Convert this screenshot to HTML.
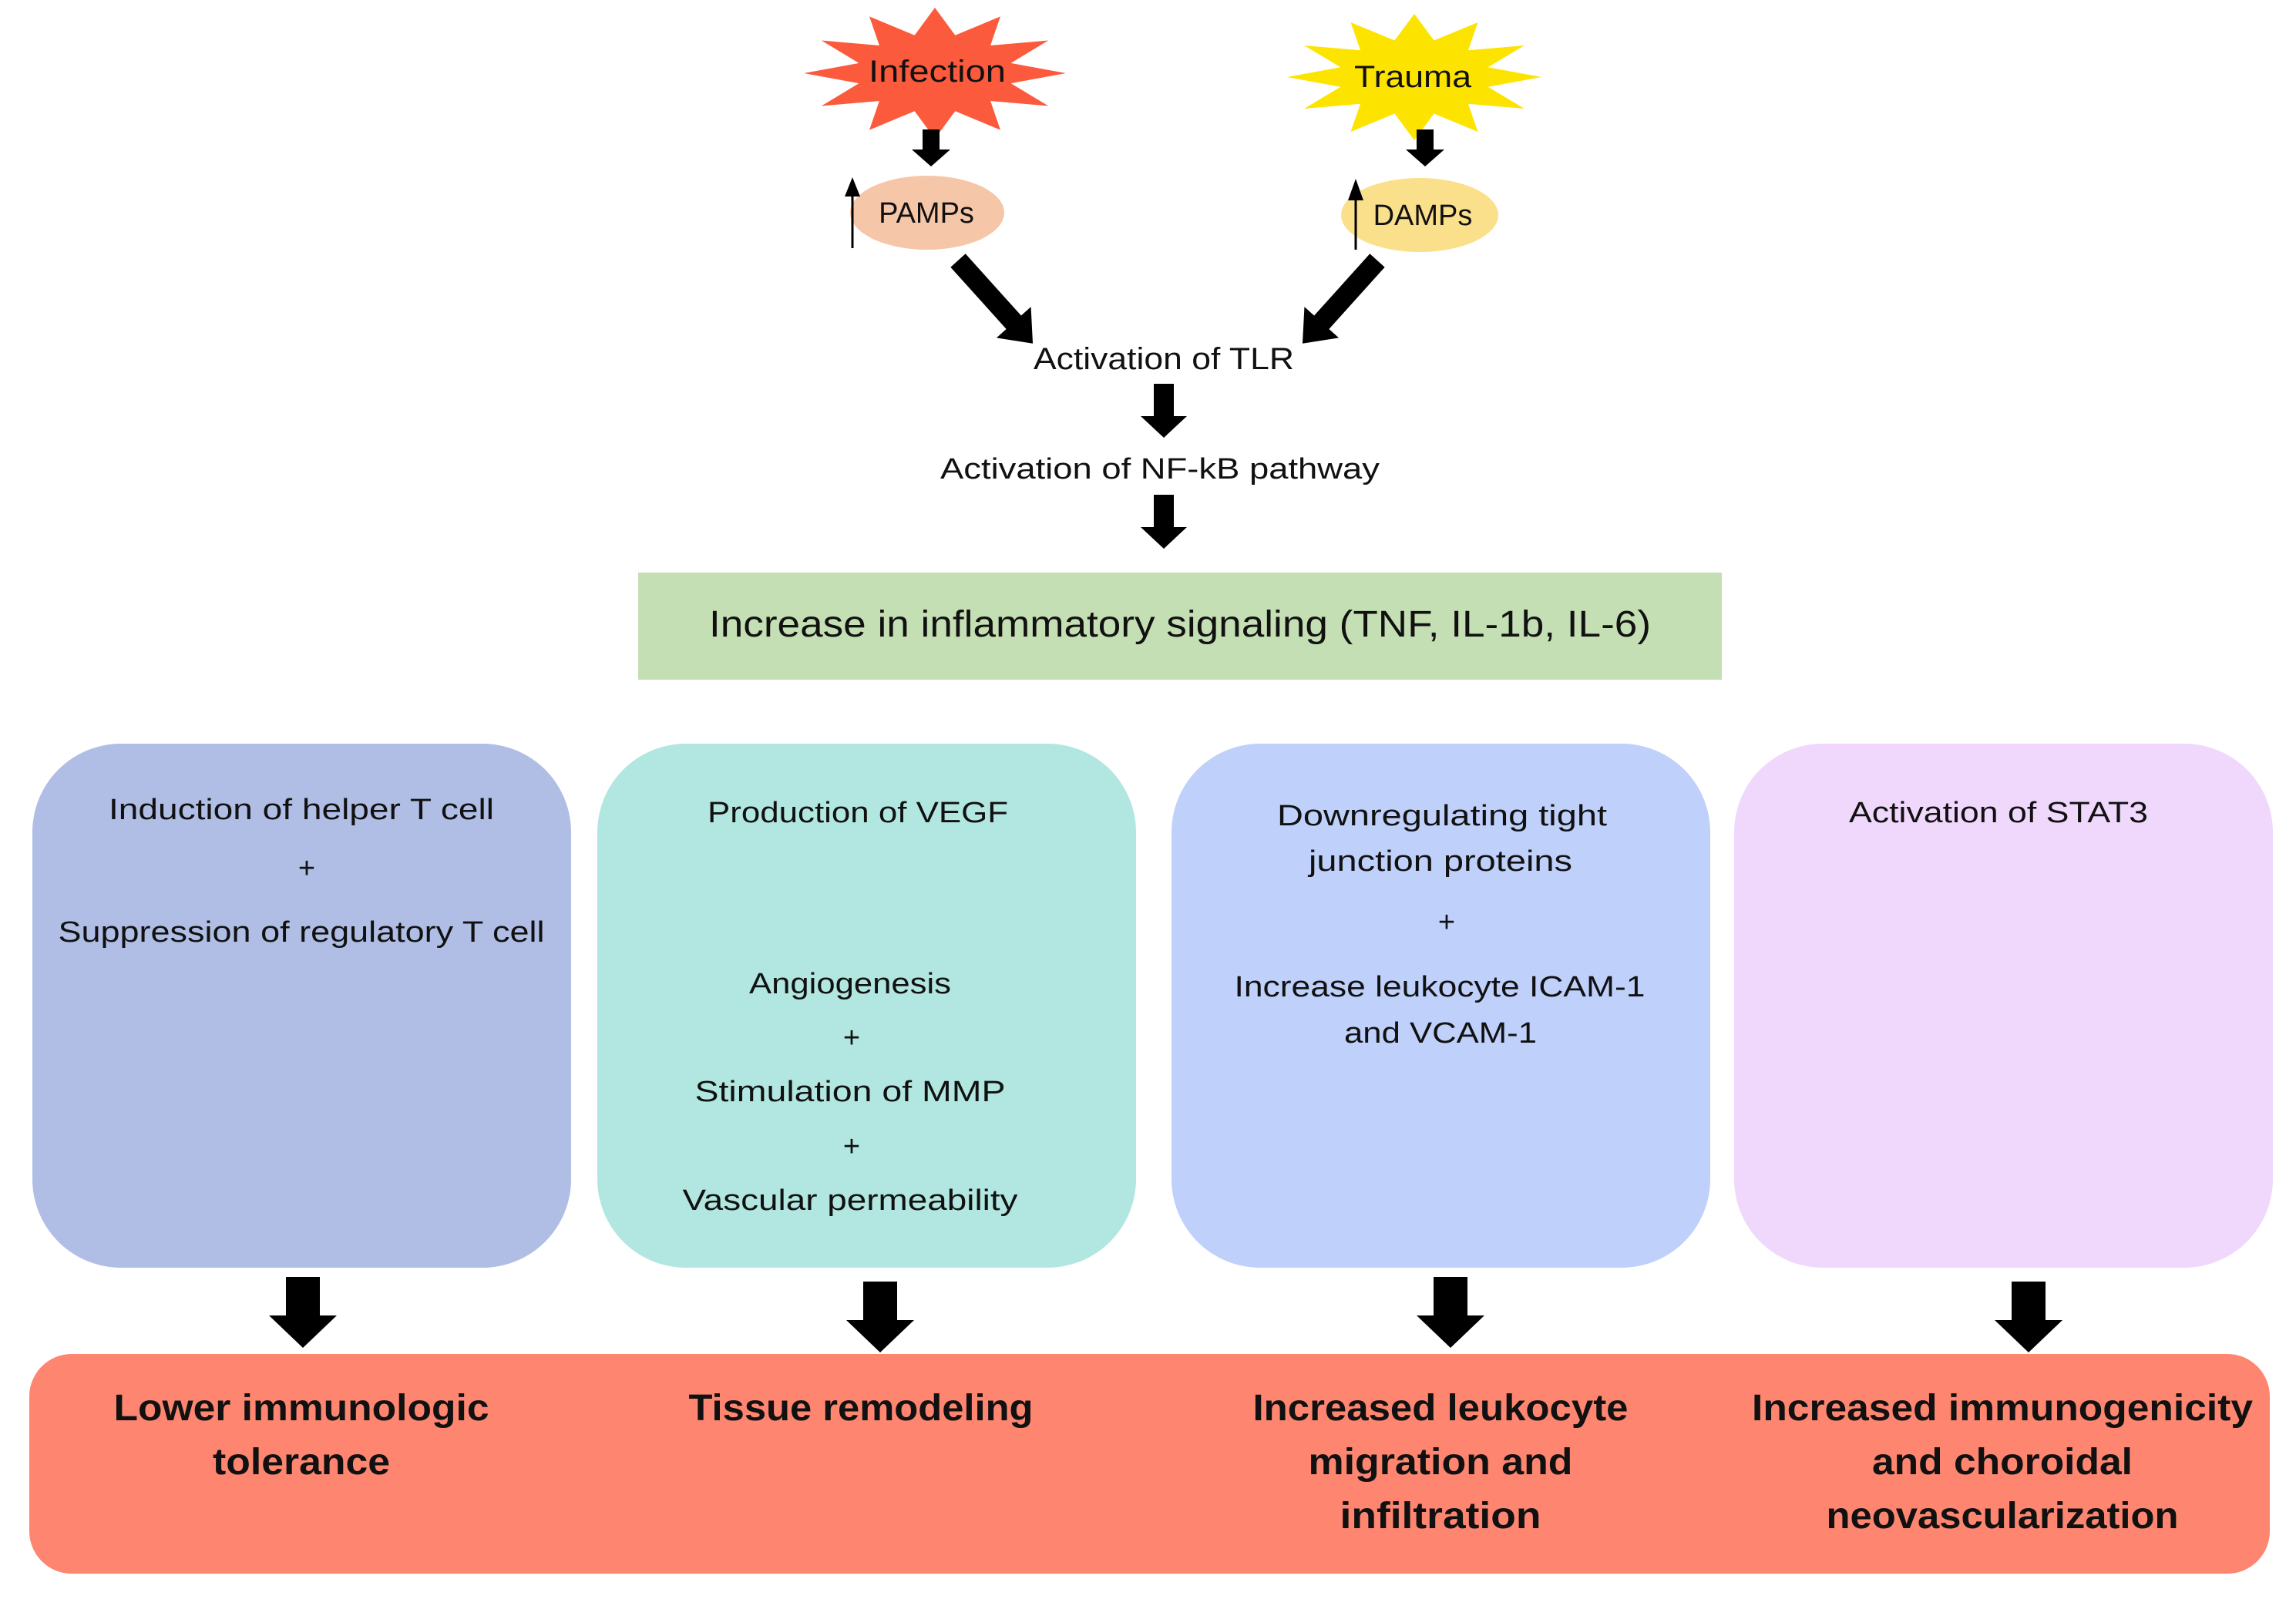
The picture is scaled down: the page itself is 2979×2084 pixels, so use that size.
<!DOCTYPE html>
<html><head><meta charset="utf-8"><style>
html,body{margin:0;padding:0;background:#fff;}
svg{display:block;}
text{font-family:"Liberation Sans",sans-serif;fill:#111;}
</style></head><body>
<svg width="2979" height="2084" viewBox="0 0 2979 2084" xmlns="http://www.w3.org/2000/svg">
<defs>
<polygon id="star" points="1,0 .58,.155 .866,.5 .424,.424 .5,.866 .155,.58 0,1 -.155,.58 -.5,.866 -.424,.424 -.866,.5 -.58,.155 -1,0 -.58,-.155 -.866,-.5 -.424,-.424 -.5,-.866 -.155,-.58 0,-1 .155,-.58 .5,-.866 .424,-.424 .866,-.5 .58,-.155"/>
<polygon id="arrS" points="-11,0 11,0 11,26 25,26 0,48 -25,26 -11,26"/>
<polygon id="arrM" points="-13,0 13,0 13,42 30,42 0,70 -30,42 -13,42"/>
<polygon id="arrL" points="-22,0 22,0 22,50 44,50 0,92 -44,50 -22,50"/>
<polygon id="arrD" points="-13,0 13,0 13,108 30,108 0,145 -30,108 -13,108"/>
</defs>

<use href="#star" transform="translate(1213,95) scale(170,85)" fill="#fc5a3c"/>
<use href="#star" transform="translate(1835,100) scale(165,82)" fill="#fde400"/>
<text x="1216" y="106" font-size="40" text-anchor="middle" textLength="178" lengthAdjust="spacingAndGlyphs">Infection</text>
<text x="1833" y="113" font-size="40" text-anchor="middle" textLength="152" lengthAdjust="spacingAndGlyphs">Trauma</text>

<use href="#arrS" transform="translate(1208,168)" fill="#000"/>
<use href="#arrS" transform="translate(1849,168)" fill="#000"/>

<ellipse cx="1203" cy="276" rx="100" ry="48" fill="#f6c6a8"/>
<ellipse cx="1842" cy="279" rx="102" ry="48" fill="#fbe08c"/>
<text x="1202" y="289" font-size="38" text-anchor="middle">PAMPs</text>
<text x="1846" y="292" font-size="38" text-anchor="middle">DAMPs</text>
<line x1="1106" y1="322" x2="1106" y2="250" stroke="#000" stroke-width="3"/>
<polygon points="1096,255 1116,255 1106,230" fill="#000"/>
<line x1="1759" y1="324" x2="1759" y2="255" stroke="#000" stroke-width="3"/>
<polygon points="1749,260 1769,260 1759,232" fill="#000"/>

<use href="#arrD" transform="translate(1243,338) rotate(-42)" fill="#000"/>
<use href="#arrD" transform="translate(1787,338) rotate(42)" fill="#000"/>

<text x="1510" y="479" font-size="40" text-anchor="middle" textLength="338" lengthAdjust="spacingAndGlyphs">Activation of TLR</text>
<use href="#arrM" transform="translate(1510,498)" fill="#000"/>
<text x="1505" y="621" font-size="38" text-anchor="middle" textLength="570" lengthAdjust="spacingAndGlyphs">Activation of NF-kB pathway</text>
<use href="#arrM" transform="translate(1510,642)" fill="#000"/>

<rect x="828" y="743" width="1406" height="139" fill="#c5dfb4"/>
<text x="1531" y="826" font-size="48" text-anchor="middle" textLength="1222" lengthAdjust="spacingAndGlyphs">Increase in inflammatory signaling (TNF, IL-1b, IL-6)</text>

<rect x="42" y="965" width="699" height="680" rx="115" fill="#b0bee6"/>
<rect x="775" y="965" width="699" height="680" rx="115" fill="#b1e7e0"/>
<rect x="1520" y="965" width="699" height="680" rx="115" fill="#bfd0fb"/>
<rect x="2250" y="965" width="699" height="680" rx="115" fill="#f0d8fc"/>

<g font-size="38" text-anchor="middle">
<text x="391" y="1063" textLength="500" lengthAdjust="spacingAndGlyphs">Induction of helper T cell</text>
<text x="398" y="1139">+</text>
<text x="391" y="1222" textLength="631" lengthAdjust="spacingAndGlyphs">Suppression of regulatory T cell</text>

<text x="1113" y="1067" textLength="390" lengthAdjust="spacingAndGlyphs">Production of VEGF</text>
<text x="1103" y="1289" textLength="262" lengthAdjust="spacingAndGlyphs">Angiogenesis</text>
<text x="1105" y="1359">+</text>
<text x="1103" y="1429" textLength="403" lengthAdjust="spacingAndGlyphs">Stimulation of MMP</text>
<text x="1105" y="1500">+</text>
<text x="1103" y="1570" textLength="435" lengthAdjust="spacingAndGlyphs">Vascular permeability</text>

<text x="1871" y="1071" textLength="428" lengthAdjust="spacingAndGlyphs">Downregulating tight</text>
<text x="1869" y="1130" textLength="342" lengthAdjust="spacingAndGlyphs">junction proteins</text>
<text x="1877" y="1209">+</text>
<text x="1868" y="1293" textLength="533" lengthAdjust="spacingAndGlyphs">Increase leukocyte ICAM-1</text>
<text x="1869" y="1353" textLength="250" lengthAdjust="spacingAndGlyphs">and VCAM-1</text>

<text x="2593" y="1067" textLength="388" lengthAdjust="spacingAndGlyphs">Activation of STAT3</text>
</g>

<use href="#arrL" transform="translate(393,1657)" fill="#000"/>
<use href="#arrL" transform="translate(1142,1663)" fill="#000"/>
<use href="#arrL" transform="translate(1882,1657)" fill="#000"/>
<use href="#arrL" transform="translate(2632,1663)" fill="#000"/>

<rect x="38" y="1757" width="2907" height="285" rx="55" fill="#fe8670"/>
<g font-size="48" font-weight="bold" text-anchor="middle">
<text x="391" y="1843" textLength="487" lengthAdjust="spacingAndGlyphs">Lower immunologic</text>
<text x="391" y="1913" textLength="230" lengthAdjust="spacingAndGlyphs">tolerance</text>
<text x="1117" y="1843" textLength="447" lengthAdjust="spacingAndGlyphs">Tissue remodeling</text>
<text x="1869" y="1843" textLength="487" lengthAdjust="spacingAndGlyphs">Increased leukocyte</text>
<text x="1869" y="1913" textLength="343" lengthAdjust="spacingAndGlyphs">migration and</text>
<text x="1869" y="1983" textLength="261" lengthAdjust="spacingAndGlyphs">infiltration</text>
<text x="2598" y="1843" textLength="650" lengthAdjust="spacingAndGlyphs">Increased immunogenicity</text>
<text x="2598" y="1913" textLength="338" lengthAdjust="spacingAndGlyphs">and choroidal</text>
<text x="2598" y="1983" textLength="457" lengthAdjust="spacingAndGlyphs">neovascularization</text>
</g>
</svg>
</body></html>
